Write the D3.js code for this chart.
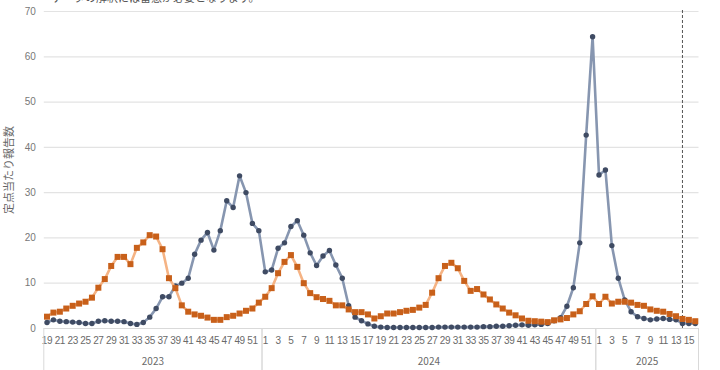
<!DOCTYPE html>
<html>
<head>
<meta charset="utf-8">
<script src="https://cdn.jsdelivr.net/npm/d3@7"></script>
<style>
  body { margin: 0; background: #fff; }
  svg { font-family: "Noto Sans CJK JP", "Noto Sans", sans-serif; }
</style>
</head>
<body>
<div id="chart"></div>
<script>
// weeks shown for each year
var years = [2023, 2024, 2025];
var weeks2023 = d3.range(19, 53);
var weeks2024 = d3.range(1, 53);
var weeks2025 = d3.range(1, 17);

// orange (squares) series
var orange2023 = [2.5,3.4,3.6,4.3,4.9,5.4,5.8,6.7,8.9,10.8,13.7,15.7,15.7,14.1,17.7,18.9,20.5,20.2,17.4,11.0,8.8,5.0,3.6,3.0,2.7,2.3,1.8,1.8,2.4,2.7,3.2,3.8,4.3,5.6];
var orange2024 = [6.9,8.8,12.1,14.6,16.1,13.5,9.9,7.7,6.8,6.4,6.0,5.0,5.0,4.1,3.5,3.5,3.0,2.1,2.6,3.2,3.2,3.5,3.8,4.0,4.5,5.1,7.8,11.0,13.7,14.4,13.2,10.4,8.2,8.6,7.4,6.3,5.2,4.3,3.4,2.8,2.1,1.6,1.5,1.4,1.3,1.7,1.9,2.2,3.0,3.7,5.3,7.0];
var orange2025 = [5.3,6.9,5.4,5.8,5.8,5.6,5.1,4.9,4.1,3.8,3.6,3.1,2.6,2.0,1.8,1.5];

// blue (circles) series
var blue2023 = [1.2,1.8,1.5,1.4,1.3,1.2,1.0,1.0,1.5,1.6,1.5,1.5,1.4,1.0,0.8,1.2,2.4,4.3,6.9,6.9,9.3,9.9,11.0,16.3,19.4,21.1,17.2,21.5,28.1,26.6,33.6,29.9,23.1,21.5];
var blue2024 = [12.4,12.8,17.6,18.8,22.4,23.7,20.5,16.6,13.8,15.9,17.1,13.9,11.0,4.9,2.4,1.6,0.9,0.4,0.2,0.1,0.1,0.1,0.1,0.1,0.1,0.1,0.1,0.2,0.2,0.2,0.2,0.2,0.2,0.2,0.3,0.3,0.4,0.4,0.5,0.6,0.7,0.6,0.7,0.8,1.0,1.6,2.3,4.8,8.9,18.8,42.6,64.3];
var blue2025 = [33.8,34.9,18.2,11.0,6.2,3.6,2.5,2.1,1.8,2.0,2.1,1.9,1.8,1.0,1.0,1.0];

var yTicks = [0, 10, 20, 30, 40, 50, 60, 70];
var markerYear = 2025, markerWeek = 14;
var yLabel = "定点当たり報告数";
var note = "データの解釈には留意が必要となります。";

var W = 720, H = 370;
var plotLeft = 43.8, plotRight = 698.5, plotTop = 11, plotBottom = 328;

var weeksByYear = [weeks2023, weeks2024, weeks2025];
var orangeByYear = [orange2023, orange2024, orange2025];
var blueByYear = [blue2023, blue2024, blue2025];

var data = [];
years.forEach(function(yr, i) {
  weeksByYear[i].forEach(function(w, j) {
    data.push({ key: yr + "-" + w, year: yr, week: w, orange: orangeByYear[i][j], blue: blueByYear[i][j] });
  });
});

var svg = d3.select("#chart").append("svg")
  .attr("width", W).attr("height", H);

var x = d3.scaleBand()
  .domain(data.map(function(d) { return d.key; }))
  .range([plotLeft, plotRight]);

var y = d3.scaleLinear().domain([0, 70]).range([plotBottom, plotTop]);

// gridlines + y labels
var yAxis = svg.append("g")
  .attr("transform", "translate(" + plotLeft + ",0)")
  .call(d3.axisLeft(y).tickValues(yTicks).tickSize(-(plotRight - plotLeft)).tickPadding(8));
yAxis.select(".domain").remove();
yAxis.selectAll("line").attr("stroke", "#e3e3e3").attr("stroke-width", 1.2);
yAxis.selectAll("text").attr("fill", "#777").style("font-size", "10px");

// x tick labels (odd weeks)
var xAxis = svg.append("g")
  .attr("transform", "translate(0," + plotBottom + ")")
  .call(d3.axisBottom(x)
    .tickValues(data.filter(function(d) { return d.week % 2 == 1; }).map(function(d) { return d.key; }))
    .tickFormat(function(k) { return k.split("-")[1]; })
    .tickSize(0).tickPadding(9));
xAxis.select(".domain").attr("stroke", "#d9d9d9");
xAxis.selectAll("text").attr("fill", "#6a6a6a").style("font-size", "10px")
  .style("letter-spacing", "-0.4px");

// year groups: separators and labels
years.forEach(function(yr) {
  var rows = data.filter(function(d) { return d.year == yr; });
  var x0 = x(rows[0].key), x1 = x(rows[rows.length - 1].key) + x.bandwidth();
  svg.append("text")
    .attr("x", (x0 + x1) / 2).attr("y", 365)
    .attr("text-anchor", "middle")
    .attr("fill", "#6a6a6a").style("font-size", "10px")
    .text(yr);
  [x0, x1].forEach(function(xx) {
    svg.append("line")
      .attr("x1", xx).attr("x2", xx).attr("y1", plotBottom).attr("y2", H)
      .attr("stroke", "#d9d9d9");
  });
});

// dashed marker line
var mx = x(markerYear + "-" + markerWeek) + x.bandwidth() / 2;
svg.append("line")
  .attr("x1", mx).attr("x2", mx).attr("y1", plotTop - 1).attr("y2", plotBottom)
  .attr("stroke", "#555").attr("stroke-width", 1)
  .attr("stroke-dasharray", "3,2");

var cx = function(d) { return x(d.key) + x.bandwidth() / 2; };

// blue series
svg.append("path")
  .datum(data)
  .attr("fill", "none")
  .attr("stroke", "#8796b0")
  .attr("stroke-width", 2.6)
  .attr("stroke-linejoin", "round")
  .attr("d", d3.line().x(cx).y(function(d) { return y(d.blue); }));

svg.selectAll(".dot")
  .data(data)
  .enter().append("circle")
  .attr("class", "dot")
  .attr("cx", cx)
  .attr("cy", function(d) { return y(d.blue); })
  .attr("r", 2.7)
  .style("fill", "#3f4b63");

// orange series
svg.append("path")
  .datum(data)
  .attr("fill", "none")
  .attr("stroke", "#f5b384")
  .attr("stroke-width", 2.6)
  .attr("stroke-linejoin", "round")
  .attr("d", d3.line().x(cx).y(function(d) { return y(d.orange); }));

svg.selectAll(".sq")
  .data(data)
  .enter().append("rect")
  .attr("class", "sq")
  .attr("x", function(d) { return cx(d) - 3; })
  .attr("y", function(d) { return y(d.orange) - 3; })
  .attr("width", 6).attr("height", 6)
  .style("fill", "#c8601a");

// y axis title
svg.append("text")
  .attr("transform", "translate(13,170) rotate(-90)")
  .attr("text-anchor", "middle")
  .attr("fill", "#666").style("font-size", "11px")
  .text(yLabel);

// note at top, partly cut off
svg.append("text")
  .attr("x", 52).attr("y", 2)
  .attr("fill", "#555").style("font-size", "11px")
  .text(note);
</script>
</body>
</html>
